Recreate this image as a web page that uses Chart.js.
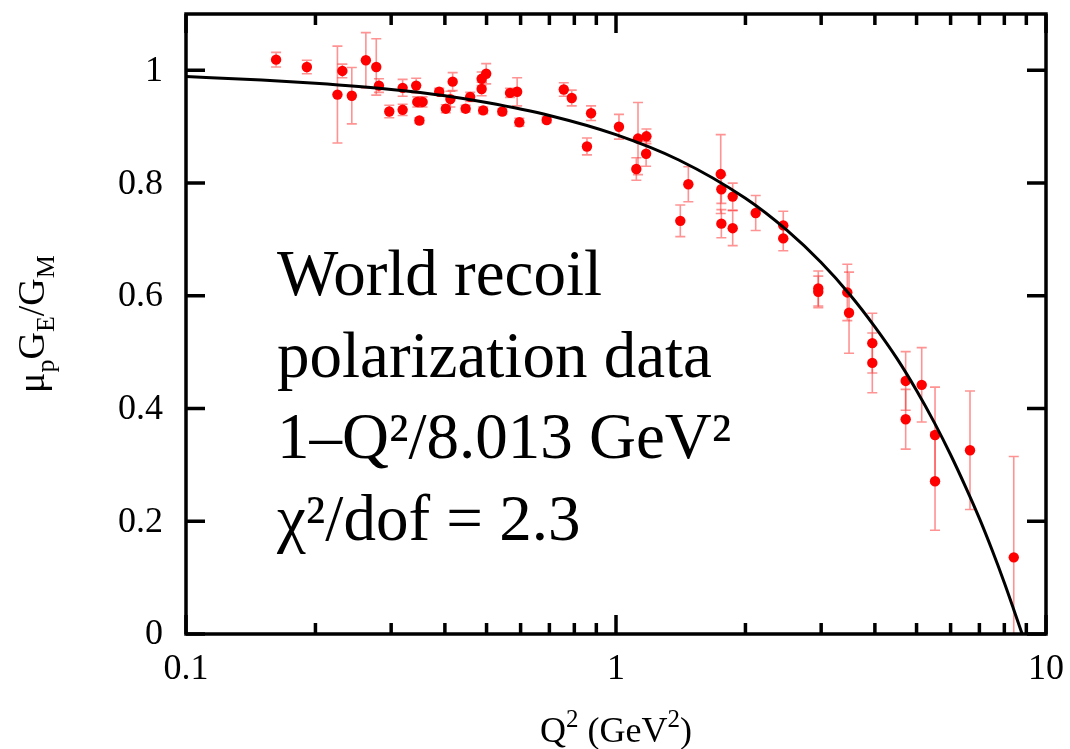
<!DOCTYPE html>
<html>
<head>
<meta charset="utf-8">
<title>World recoil polarization data</title>
<script src="https://cdn.jsdelivr.net/npm/chart.js@4.4.1/dist/chart.umd.min.js"></script>
<style>
  html, body { margin:0; padding:0; background:#fff; }
  #plot { display:block; }
</style>
</head>
<body>
<canvas id="plot" width="1070" height="749"></canvas>
<script>
/* ===== Data ===== */
const q2 = [
  0.162, 0.191, 0.225, 0.231, 0.243, 0.262, 0.277, 0.281, 0.297, 0.319,
  0.319, 0.343, 0.345, 0.349, 0.355, 0.388, 0.402, 0.412, 0.417, 0.447,
  0.458, 0.487, 0.487, 0.491, 0.499, 0.544, 0.567, 0.589, 0.596, 0.690,
  0.756, 0.789, 0.856, 0.875, 1.016, 1.115, 1.125, 1.177, 1.175, 1.411,
  1.473, 1.752, 1.758, 1.758, 1.868, 1.868, 2.113, 2.449, 2.449, 2.954,
  2.954, 3.451, 3.483, 3.945, 3.945, 4.717, 4.717, 5.140, 5.520, 5.520,
  6.657, 8.414
];
const ratio = [
  1.019, 1.006, 0.957, 0.999, 0.955, 1.018, 1.006, 0.973, 0.927, 0.969,
  0.930, 0.973, 0.944, 0.911, 0.944, 0.962, 0.932, 0.949, 0.980, 0.932,
  0.953, 0.985, 0.967, 0.929, 0.994, 0.927, 0.960, 0.962, 0.908, 0.912,
  0.966, 0.951, 0.865, 0.924, 0.900, 0.825, 0.879, 0.883, 0.852, 0.733,
  0.798, 0.816, 0.789, 0.728, 0.776, 0.720, 0.747, 0.725, 0.702, 0.613,
  0.607, 0.606, 0.570, 0.516, 0.481, 0.449, 0.381, 0.442, 0.353, 0.271,
  0.326, 0.136
];
const ratioErr = [
  0.013, 0.012, 0.086, 0.012, 0.050, 0.049, 0.050, 0.012, 0.011, 0.015,
  0.010, 0.013, 0.009, 0.005, 0.009, 0.006, 0.007, 0.014, 0.016, 0.006,
  0.008, 0.012, 0.012, 0.006, 0.018, 0.005, 0.008, 0.025, 0.007, 0.005,
  0.012, 0.014, 0.015, 0.013, 0.022, 0.020, 0.064, 0.013, 0.022, 0.028,
  0.031, 0.070, 0.025, 0.025, 0.024, 0.031, 0.031, 0.025, 0.022, 0.031,
  0.028, 0.050, 0.072, 0.053, 0.053, 0.052, 0.053, 0.066, 0.085, 0.087,
  0.105, 0.179
];

// fit curve as drawn in the figure
const fitQ2    = [0.1, 0.15, 0.2, 0.3, 0.4, 0.5, 0.7, 1.0, 1.4, 2.0, 2.5, 3.0,
                  3.5, 4.0, 4.5, 5.0, 5.5, 6.0, 6.5, 7.0, 7.5, 8.0, 8.4, 8.8];
const fitRatio = [0.989, 0.983, 0.977, 0.966, 0.955, 0.943, 0.920, 0.886, 0.841, 0.773, 0.716, 0.659,
                  0.602, 0.545, 0.489, 0.432, 0.375, 0.318, 0.261, 0.205, 0.148, 0.091, 0.045, 0.0];

const xTicks      = [0.1, 1, 10];
const xTickLabels = ['0.1', '1', '10'];
const xMinor      = [0.2, 0.3, 0.4, 0.5, 0.6, 0.7, 0.8, 0.9, 2, 3, 4, 5, 6, 7, 8, 9];
const yTicks      = [0, 0.2, 0.4, 0.6, 0.8, 1];
const yTickLabels = ['0', '0.2', '0.4', '0.6', '0.8', '1'];
const noteLines   = ['World recoil', 'polarization data', '1\u2013Q\u00b2/8.013 GeV\u00b2', '\u03c7\u00b2/dof = 2.3'];

/* ===== Helpers ===== */
const $ = (id) => document.getElementById(id);
const SERIF = '"Liberation Serif", "Times New Roman", Times, serif';
const font = (px) => px + 'px ' + SERIF;

// draw a run of [text, size, dy] pieces left to right, returns end x
function drawRuns(ctx, runs, x, y){
  runs.forEach(([t, size, dy]) => {
    ctx.font = font(size);
    ctx.fillText(t, x, y + dy);
    x += ctx.measureText(t).width;
  });
  return x;
}
function runsWidth(ctx, runs){
  return runs.reduce((w, [t, size]) => { ctx.font = font(size); return w + ctx.measureText(t).width; }, 0);
}

/* ===== Plugins ===== */
const errorBars = {
  id: 'errorBars',
  beforeDatasetsDraw(chart){
    const { ctx, chartArea: a, scales: { x, y } } = chart;
    ctx.save();
    ctx.beginPath(); ctx.rect(a.left, a.top, a.right - a.left, a.bottom - a.top); ctx.clip();
    ctx.strokeStyle = 'rgba(255,40,40,0.5)';
    ctx.lineWidth = 1.6;
    q2.forEach((q, i) => {
      const px = x.getPixelForValue(q);
      const top = y.getPixelForValue(ratio[i] + ratioErr[i]);
      const bot = y.getPixelForValue(ratio[i] - ratioErr[i]);
      ctx.beginPath();
      ctx.moveTo(px, top); ctx.lineTo(px, bot);
      ctx.moveTo(px - 5, top); ctx.lineTo(px + 5, top);
      ctx.moveTo(px - 5, bot); ctx.lineTo(px + 5, bot);
      ctx.stroke();
    });
    ctx.restore();
  }
};

const frame = {
  id: 'frame',
  afterDraw(chart){
    const { ctx, chartArea: a, scales: { x, y } } = chart;
    ctx.save();
    ctx.strokeStyle = '#000';
    ctx.fillStyle = '#000';
    ctx.lineWidth = 3.5;
    ctx.lineCap = 'butt';

    // inside ticks on all four sides
    ctx.beginPath();
    xTicks.forEach(v => { const px = x.getPixelForValue(v);
      ctx.moveTo(px, a.bottom); ctx.lineTo(px, a.bottom - 19);
      ctx.moveTo(px, a.top);    ctx.lineTo(px, a.top + 19); });
    xMinor.forEach(v => { const px = x.getPixelForValue(v);
      ctx.moveTo(px, a.bottom); ctx.lineTo(px, a.bottom - 11);
      ctx.moveTo(px, a.top);    ctx.lineTo(px, a.top + 11); });
    yTicks.forEach(v => { const py = y.getPixelForValue(v);
      ctx.moveTo(a.left, py);  ctx.lineTo(a.left + 19, py);
      ctx.moveTo(a.right, py); ctx.lineTo(a.right - 19, py); });
    ctx.stroke();

    ctx.strokeRect(a.left, a.top, a.right - a.left, a.bottom - a.top);

    // tick labels
    ctx.font = font(36);
    ctx.textAlign = 'right'; ctx.textBaseline = 'middle';
    yTicks.forEach((v, i) => ctx.fillText(yTickLabels[i], a.left - 23, y.getPixelForValue(v) + 1));
    ctx.textAlign = 'center'; ctx.textBaseline = 'alphabetic';
    xTicks.forEach((v, i) => ctx.fillText(xTickLabels[i], x.getPixelForValue(v), a.bottom + 45));

    // x title: Q^2 (GeV^2)
    ctx.textAlign = 'left';
    const xRuns = [['Q', 36, 0], ['2', 25, -15], [' (GeV', 36, 0], ['2', 25, -15], [')', 36, 0]];
    drawRuns(ctx, xRuns, (a.left + a.right) / 2 - runsWidth(ctx, xRuns) / 2, 742);

    // y title: mu_p G_E / G_M, rotated
    const yRuns = [['\u03bc', 38, 0], ['p', 26, 10], ['G', 38, 0], ['E', 26, 10], ['/G', 38, 0], ['M', 26, 10]];
    ctx.translate(44, (a.top + a.bottom) / 2);
    ctx.rotate(-Math.PI / 2);
    drawRuns(ctx, yRuns, -runsWidth(ctx, yRuns) / 2, 0);
    ctx.restore();

    // note inside the plot
    ctx.save();
    ctx.fillStyle = '#000';
    ctx.font = font(65);
    ctx.textAlign = 'left'; ctx.textBaseline = 'alphabetic';
    noteLines.forEach((t, i) => ctx.fillText(t, 277, 295 + i * 81.7));
    ctx.restore();
  }
};

/* ===== Chart ===== */
new Chart($('plot').getContext('2d'), {
  type: 'scatter',
  data: {
    datasets: [
      {
        label: 'fit',
        data: fitQ2.map((q, i) => ({ x: q, y: fitRatio[i] })),
        showLine: true,
        borderColor: '#000',
        borderWidth: 3,
        pointRadius: 0,
        cubicInterpolationMode: 'monotone',
        fill: false
      },
      {
        label: 'data',
        data: q2.map((q, i) => ({ x: q, y: ratio[i] })),
        backgroundColor: '#ff0000',
        borderColor: '#ff0000',
        borderWidth: 0,
        pointRadius: 5.2
      }
    ]
  },
  options: {
    responsive: false,
    animation: false,
    events: [],
    layout: { padding: { left: 186, right: 24, top: 14, bottom: 115 } },
    plugins: { legend: { display: false }, tooltip: { enabled: false } },
    scales: {
      x: { type: 'logarithmic', min: 0.1, max: 10, display: false },
      y: { type: 'linear', min: 0, max: 1.1, display: false }
    }
  },
  plugins: [errorBars, frame]
});
</script>
</body>
</html>
